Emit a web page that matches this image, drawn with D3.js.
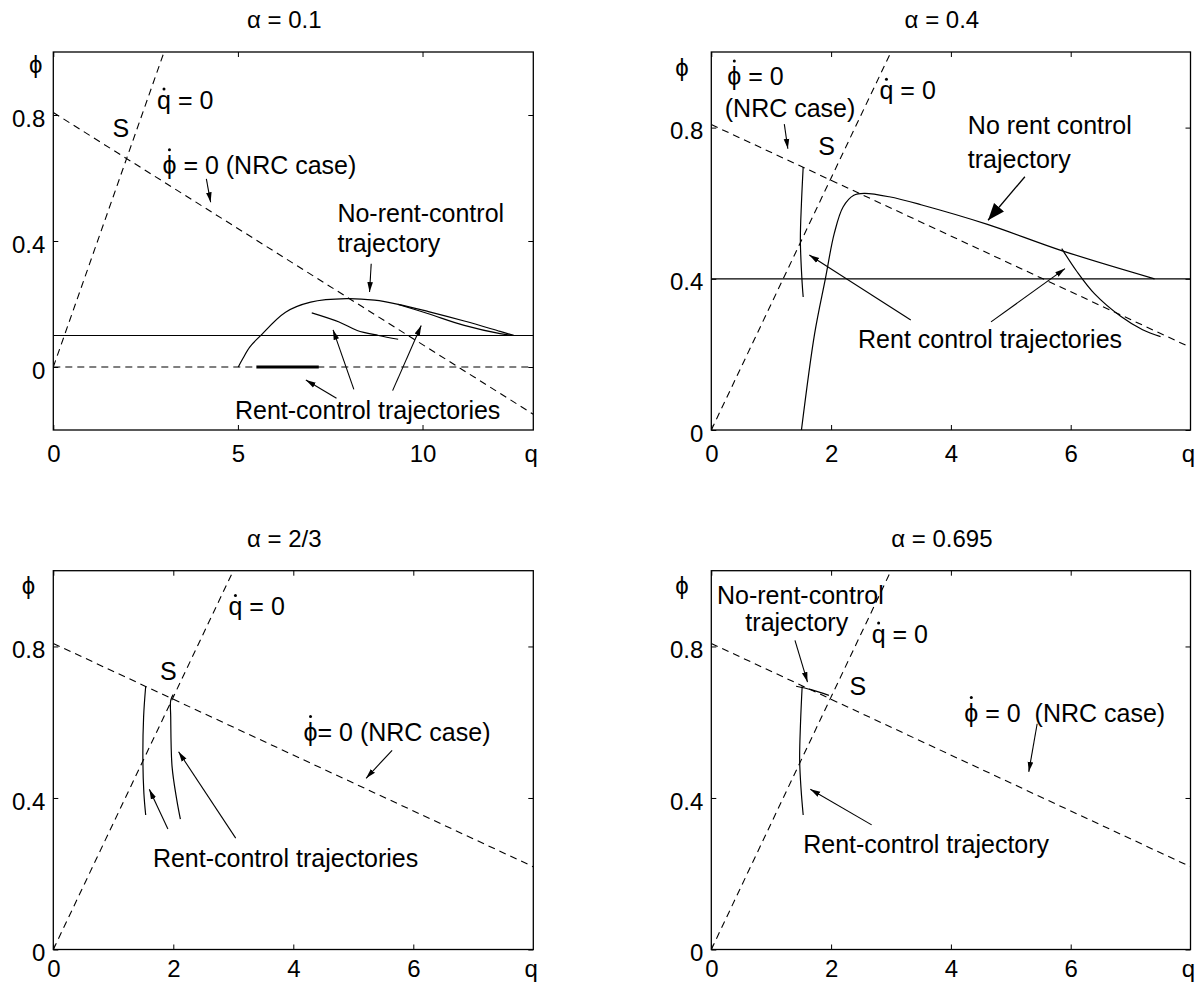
<!DOCTYPE html>
<html>
<head>
<meta charset="utf-8">
<script src="https://cdn.jsdelivr.net/npm/d3@7"></script>
<style>
  body { margin: 0; background: #fff; }
  text { font-family: "Liberation Sans", Arial, sans-serif; fill: #000; }
</style>
</head>
<body>
<svg id="chart" width="1199" height="984"></svg>
<script>
// ---- data ----
const titles = ["\u03b1 = 0.1", "\u03b1 = 0.4", "\u03b1 = 2/3", "\u03b1 = 0.695"];
const qDomains = [[0, 13], [0, 8], [0, 8], [0, 8]];
const phiDomains = [[-0.2, 1], [0, 1], [0, 1], [0, 1]];
const qTicks = [[0, 5, 10], [0, 2, 4, 6], [0, 2, 4, 6], [0, 2, 4, 6]];
const phiTicks = [0, 0.4, 0.8];

// nullclines (same in every panel)
const qDotZero = [[0, 0], [3, 1]];
const phiDotZero = [[0, 0.808], [13, -0.15]];

// alpha = 0.1
const floor1 = [[0, 0], [13, 0]];
const ceiling1 = [[0, 0.1], [13, 0.1]];
const nrc1 = [[5.01, 0], [5.13, 0.026], [5.32, 0.063], [5.6, 0.098], [6.29, 0.174], [6.97, 0.206],
  [7.94, 0.217], [8.7, 0.212], [9.34, 0.199], [10.16, 0.176], [11.13, 0.146], [12.1, 0.113], [12.48, 0.1]];
const rcA1 = [[7.0, 0.172], [7.74, 0.143], [8.23, 0.116], [8.81, 0.1], [9.34, 0.088]];
const rcB1 = [[9.34, 0.199], [10.16, 0.169], [11.13, 0.132], [12.1, 0.106], [12.48, 0.1]];
const rcFlat1 = [[5.5, 0], [7.19, 0]];
const arrows1 = [[4.145, 0.597, 4.261, 0.523], [8.61, 0.328, 8.565, 0.238], [7.67, -0.099, 6.84, -0.041],
  [8.14, -0.071, 7.577, 0.118], [9.19, -0.075, 9.965, 0.132]];
const labels1 = [["q = 0", 2.81, 0.819, "start", true], ["S", 1.603, 0.729, "start", false],
  ["\u03d5 = 0 (NRC case)", 2.956, 0.613, "start", true], ["No-rent-control", 7.694, 0.46, "start", false],
  ["trajectory", 7.694, 0.365, "start", false], ["Rent-control trajectories", 4.92, -0.166, "start", false]];

// alpha = 0.4
const ceiling2 = [[0, 0.4], [8, 0.4]];
const nrc2 = [[1.505, 0], [1.725, 0.255], [1.904, 0.4], [2.053, 0.52], [2.2, 0.59], [2.379, 0.621],
  [2.558, 0.626], [2.97, 0.617], [3.5, 0.596], [4.61, 0.544], [5.86, 0.474], [7.4, 0.4]];
const rcL2 = [[1.534, 0.696], [1.505, 0.6], [1.487, 0.502], [1.517, 0.388], [1.534, 0.352]];
const rcR2 = [[5.85, 0.48], [6.1, 0.42], [6.4, 0.36], [6.84, 0.3], [7.2, 0.265], [7.5, 0.247]];
const arrows2 = [[1.219, 0.809, 1.278, 0.744], [3.33, 0.291, 1.636, 0.463], [4.67, 0.286, 5.905, 0.427]];
const bigArrows2 = [[5.235, 0.67, 4.62, 0.555]];
const labels2 = [["\u03d5 = 0", 0.267, 0.912, "start", true], ["(NRC case)", 0.225, 0.828, "start", false],
  ["S", 1.785, 0.727, "start", false], ["q = 0", 2.808, 0.875, "start", true],
  ["No rent control", 4.283, 0.782, "start", false], ["trajectory", 4.283, 0.692, "start", false],
  ["Rent control trajectories", 2.45, 0.216, "start", false]];

// alpha = 2/3
const rcL3 = [[1.54, 0.695], [1.505, 0.614], [1.493, 0.5], [1.51, 0.412], [1.54, 0.355]];
const rcR3 = [[1.998, 0.673], [1.957, 0.658], [1.957, 0.614], [1.98, 0.482], [2.058, 0.395], [2.118, 0.344]];
const arrows3 = [[1.91, 0.318, 1.6, 0.423], [3.04, 0.294, 2.088, 0.522], [5.647, 0.526, 5.213, 0.452]];
const labels3 = [["q = 0", 2.92, 0.882, "start", true], ["S", 1.778, 0.711, "start", false],
  ["\u03d5= 0 (NRC case)", 4.17, 0.551, "start", true], ["Rent-control trajectories", 1.66, 0.219, "start", false]];

// alpha = 0.695
const rc4 = [[1.517, 0.695], [1.49, 0.6], [1.475, 0.5], [1.5, 0.42], [1.534, 0.355]];
const nrc4 = [[1.416, 0.695], [1.666, 0.686], [1.963, 0.671]];
const arrows4 = [[1.397, 0.816, 1.606, 0.706], [2.677, 0.329, 1.653, 0.423], [5.44, 0.596, 5.3, 0.469]];
const labels4 = [["No-rent-control", 1.487, 0.912, "middle", false], ["trajectory", 1.427, 0.84, "middle", false],
  ["q = 0", 2.677, 0.809, "start", true], ["S", 2.308, 0.671, "start", false],
  ["\u03d5 = 0  (NRC case)", 4.224, 0.601, "start", true], ["Rent-control trajectory", 1.534, 0.254, "start", false]];

const panels = [
  { solid: [ceiling1, nrc1, rcA1, rcB1], dashed: [floor1], thick: [rcFlat1], arrows: arrows1, big: [], labels: labels1 },
  { solid: [ceiling2, nrc2, rcL2, rcR2], dashed: [], thick: [], arrows: arrows2, big: bigArrows2, labels: labels2 },
  { solid: [rcL3, rcR3], dashed: [], thick: [], arrows: arrows3, big: [], labels: labels3 },
  { solid: [rc4, nrc4], dashed: [], thick: [], arrows: arrows4, big: [], labels: labels4 }
];

// ---- layout ----
const frames = [
  { x0: 53.3, x1: 533.3, y0: 52, y1: 430, phiDx: 17.6, labelGap: 31.5 },
  { x0: 711.3, x1: 1190.5, y0: 52, y1: 430, phiDx: 29.3, labelGap: 31.5 },
  { x0: 53.3, x1: 533.3, y0: 570.7, y1: 949.5, phiDx: 24.7, labelGap: 27.5 },
  { x0: 711.3, x1: 1190.5, y0: 570.7, y1: 949.5, phiDx: 29.3, labelGap: 27.5 }
];
const tickFont = 24, noteFont = 25, titleFont = 24;

const svg = d3.select("#chart");
const defs = svg.append("defs");

defs.append("marker")
  .attr("id", "head")
  .attr("viewBox", "0 -4 10 8")
  .attr("refX", 10).attr("refY", 0)
  .attr("markerWidth", 10).attr("markerHeight", 8)
  .attr("markerUnits", "userSpaceOnUse")
  .attr("orient", "auto")
  .append("path").attr("d", "M0,-2.8L10,0L0,2.8Z").attr("fill", "#000");

defs.append("marker")
  .attr("id", "bighead")
  .attr("viewBox", "0 -7 17 14")
  .attr("refX", 17).attr("refY", 0)
  .attr("markerWidth", 17).attr("markerHeight", 14)
  .attr("markerUnits", "userSpaceOnUse")
  .attr("orient", "auto")
  .append("path").attr("d", "M0,-6.5L17,0L0,6.5Z").attr("fill", "#000");

panels.forEach((p, i) => drawPanel(p, i));

function drawPanel(p, i) {
  const f = frames[i];
  const x = d3.scaleLinear().domain(qDomains[i]).range([f.x0, f.x1]);
  const y = d3.scaleLinear().domain(phiDomains[i]).range([f.y1, f.y0]);
  const g = svg.append("g");

  defs.append("clipPath").attr("id", "clip" + i)
    .append("rect")
    .attr("x", f.x0).attr("y", f.y0)
    .attr("width", f.x1 - f.x0).attr("height", f.y1 - f.y0);

  const plot = g.append("g").attr("clip-path", `url(#clip${i})`);
  const straight = d3.line().x(d => x(d[0])).y(d => y(d[1]));
  const smooth = d3.line().x(d => x(d[0])).y(d => y(d[1])).curve(d3.curveCatmullRom.alpha(0.5));

  // nullclines
  [qDotZero, phiDotZero].concat(p.dashed).forEach(d => {
    plot.append("path")
      .attr("d", straight(d))
      .attr("fill", "none")
      .attr("stroke", "#000")
      .attr("stroke-width", 1.1)
      .attr("stroke-dasharray", "7,5");
  });

  p.solid.forEach(d => {
    plot.append("path")
      .attr("d", d.length > 2 ? smooth(d) : straight(d))
      .attr("fill", "none")
      .attr("stroke", "#000")
      .attr("stroke-width", 1.2);
  });

  p.thick.forEach(d => {
    plot.append("path")
      .attr("d", straight(d))
      .attr("fill", "none")
      .attr("stroke", "#000")
      .attr("stroke-width", 3);
  });

  // arrows
  g.selectAll(".arrow")
    .data(p.arrows)
    .join("line")
    .attr("class", "arrow")
    .attr("x1", d => x(d[0])).attr("y1", d => y(d[1]))
    .attr("x2", d => x(d[2])).attr("y2", d => y(d[3]))
    .attr("stroke", "#000")
    .attr("stroke-width", 1.1)
    .attr("marker-end", "url(#head)");

  g.selectAll(".bigarrow")
    .data(p.big)
    .join("line")
    .attr("class", "bigarrow")
    .attr("x1", d => x(d[0])).attr("y1", d => y(d[1]))
    .attr("x2", d => x(d[2])).attr("y2", d => y(d[3]))
    .attr("stroke", "#000")
    .attr("stroke-width", 1.3)
    .attr("marker-end", "url(#bighead)");

  // annotations
  p.labels.forEach(([txt, q, phi, anchor, dot]) => {
    const t = g.append("text")
      .attr("x", x(q))
      .attr("y", y(phi))
      .attr("text-anchor", anchor)
      .attr("font-size", noteFont)
      .style("white-space", "pre")
      .text(txt);
    if (dot) {
      const box = t.node().getExtentOfChar(0);
      const isPhi = txt[0] === "\u03d5";
      g.append("circle")
        .attr("cx", box.x + box.width / 2)
        .attr("cy", y(phi) - noteFont * (isPhi ? 0.97 : 0.8))
        .attr("r", 1.5)
        .attr("fill", "#000");
    }
  });

  // frame
  g.append("rect")
    .attr("x", f.x0).attr("y", f.y0)
    .attr("width", f.x1 - f.x0).attr("height", f.y1 - f.y0)
    .attr("fill", "none")
    .attr("stroke", "#000")
    .attr("stroke-width", 1.3);

  // axes with inward ticks on all four sides
  g.append("g")
    .attr("transform", `translate(0,${f.y1})`)
    .call(d3.axisBottom(x).tickValues(qTicks[i]).tickSizeInner(-5).tickSizeOuter(0)
      .tickPadding(f.labelGap - 17));
  const left = g.append("g")
    .attr("transform", `translate(${f.x0},0)`)
    .call(d3.axisLeft(y).tickValues(phiTicks).tickSizeInner(-5).tickSizeOuter(0).tickPadding(8)
      .tickFormat(d3.format("")));
  g.append("g")
    .attr("transform", `translate(0,${f.y0})`)
    .call(d3.axisTop(x).tickValues(qTicks[i]).tickSizeInner(-5).tickSizeOuter(0).tickFormat(""));
  g.append("g")
    .attr("transform", `translate(${f.x1},0)`)
    .call(d3.axisRight(y).tickValues(phiTicks).tickSizeInner(-5).tickSizeOuter(0).tickFormat(""));

  g.selectAll(".domain").remove();
  g.selectAll(".tick line").attr("stroke", "#000").attr("stroke-width", 1);
  g.selectAll(".tick text")
    .attr("font-family", "'Liberation Sans', Arial, sans-serif")
    .attr("font-size", tickFont)
    .attr("fill", "#000");
  left.selectAll(".tick text").attr("dy", "0.46em");

  // axis letters
  g.append("text")
    .attr("x", f.x1 - 2)
    .attr("y", f.y1 + f.labelGap)
    .attr("text-anchor", "middle")
    .attr("font-size", tickFont)
    .text("q");
  g.append("text")
    .attr("x", f.x0 - f.phiDx)
    .attr("y", y(0.955) + 6.5)
    .attr("text-anchor", "middle")
    .attr("font-size", tickFont)
    .text("\u03d5");

  // title
  g.append("text")
    .attr("x", (f.x0 + f.x1) / 2 - 9)
    .attr("y", f.y0 - 24)
    .attr("text-anchor", "middle")
    .attr("font-size", titleFont)
    .style("white-space", "pre")
    .text(titles[i]);
}
</script>
</body>
</html>
